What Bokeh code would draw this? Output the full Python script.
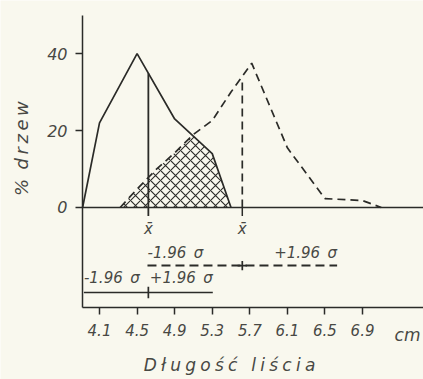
import numpy as np
from bokeh.plotting import figure
from bokeh.models import Range1d, FixedTicker, Label, ColumnDataSource
from bokeh.core.properties import value
from bokeh.embed import file_html
from bokeh.resources import INLINE

# ---- data ----
solid_x = [3.92, 4.1, 4.5, 4.9, 5.3, 5.5]
solid_y = [0, 22, 40, 23, 14, 0]
dash_x = [4.32, 4.5, 4.7, 4.9, 5.1, 5.3, 5.5, 5.72, 6.1, 6.5, 6.9, 7.1]
dash_y = [0, 4.8, 9.8, 14.2, 19.0, 22.6, 30.0, 37.5, 15.5, 2.3, 1.8, 0]
mean1, sigma1 = 4.62, 0.35
mean2, sigma2 = 5.62, 0.515
x_ticks = [4.1, 4.5, 4.9, 5.3, 5.7, 6.1, 6.5, 6.9]
y_ticks = [0, 20, 40]
x_title = "D\u2005ł\u2005u\u2005g\u2005o\u2005ś\u2005ć\u2002 l\u2005i\u2005ś\u2005c\u2005i\u2005a"
y_title = "%\u2009 d\u2009r\u2009z\u2009e\u2009w"
unit = "cm"
sig_minus = "-1.96\u2002σ"
sig_plus = "+1.96\u2002σ"
mean_label = "x\u0304"

INK = "#2b2b28"
TXT = "#484844"
BG = "#f9f8ee"
FONT = value("DejaVu Sans")

X0, X1 = 3.919, 7.549      # extent of the drawn x axis
Y0, Y1 = -26.0, 49.9       # extent of the drawn y axis

p = figure(width=423, height=379, output_backend="svg", toolbar_location=None,
           x_range=Range1d(3.046, 7.549), y_range=Range1d(-44.72, 53.8),
           min_border=0, background_fill_color=BG, border_fill_color=BG,
           outline_line_color=None)
p.grid.visible = False

for ax in (p.xaxis[0], p.yaxis[0]):
    ax.axis_line_color = INK
    ax.axis_line_width = 1.5
    ax.major_tick_line_color = INK
    ax.major_tick_line_width = 1.5
    ax.major_tick_out = 7
    ax.major_tick_in = 0
    ax.minor_tick_line_color = None
    ax.major_label_text_font = "DejaVu Sans"
    ax.major_label_text_font_style = "italic"
    ax.major_label_text_color = TXT

p.xaxis.fixed_location = Y0
p.xaxis.bounds = (X0, X1)
p.yaxis.fixed_location = X0
p.yaxis.bounds = (Y0, Y1)
p.xaxis.ticker = FixedTicker(ticks=x_ticks)
p.xaxis.major_label_text_font_size = "15px"
p.xaxis.major_label_standoff = 10
p.yaxis.ticker = FixedTicker(ticks=y_ticks)
p.yaxis.major_label_text_font_size = "16px"
p.yaxis.major_label_standoff = 8

# baseline at 0
p.line([X0, X1], [0, 0], line_color=INK, line_width=1.5)

# hatched overlap
hx = np.linspace(dash_x[0], solid_x[-1], 200)
top = np.minimum(np.interp(hx, solid_x, solid_y), np.interp(hx, dash_x, dash_y))
px = np.concatenate([hx, hx[::-1]])
py = np.concatenate([top, np.zeros_like(top)])
p.patch(px, py, fill_color=None, line_color=None, hatch_pattern="x",
        hatch_color=INK, hatch_scale=10, hatch_weight=1.1)

# curves
p.line(solid_x, solid_y, line_color=INK, line_width=1.7)
p.line(dash_x, dash_y, line_color=INK, line_width=1.7, line_dash="8 5")

# mean lines
m1_top = float(np.interp(mean1, solid_x, solid_y))
m2_top = float(np.interp(mean2, dash_x, dash_y)) - 1.0
p.segment([mean1], [-2.2], [mean1], [m1_top], line_color=INK, line_width=1.8)
p.segment([mean2], [0], [mean2], [m2_top], line_color=INK, line_width=1.7, line_dash="8 5")
p.segment([mean2], [-2.2], [mean2], [0], line_color=INK, line_width=1.5)

# mean labels
p.text([mean1, mean2], [-5.6, -5.6], text=[mean_label, mean_label], text_font=FONT,
       text_font_style="italic", text_font_size="15px", text_color=TXT,
       text_align="center", text_baseline="middle")

# +-1.96 sigma ranges
lvl2, lvl1 = -15.1, -22.1
lo2, hi2 = mean2 - 1.96 * sigma2, mean2 + 1.96 * sigma2
lo1, hi1 = mean1 - 1.96 * sigma1, mean1 + 1.96 * sigma1
p.line([lo2, hi2], [lvl2, lvl2], line_color=INK, line_width=1.9, line_dash="9 5")
p.line([lo1, hi1], [lvl1, lvl1], line_color=INK, line_width=1.7)
p.segment([mean2, mean2 - 0.05, mean1], [lvl2 - 1.2, lvl2, lvl1 - 1.5],
          [mean2, mean2 + 0.05, mean1], [lvl2 + 1.2, lvl2, lvl1 + 1.5],
          line_color=INK, line_width=1.7)

src = ColumnDataSource(dict(x=[lo2, hi2, lo1, hi1], y=[lvl2 + 0.9, lvl2 + 0.9, lvl1 + 1.3, lvl1 + 1.3],
                            t=[sig_minus, sig_plus, sig_minus, sig_plus],
                            a=["left", "right", "left", "right"]))
p.text("x", "y", text="t", source=src, text_align="a", text_baseline="bottom",
       text_font=FONT, text_font_style="italic", text_font_size="15px", text_color=TXT)

# titles
p.add_layout(Label(x=7.379, y=-33.2, text=unit, text_align="center", text_baseline="middle",
                   text_font="DejaVu Sans", text_font_style="italic", text_font_size="17px",
                   text_color=TXT))
p.add_layout(Label(x=5.484, y=-41.0, text=x_title, text_align="center", text_baseline="middle",
                   text_font="DejaVu Sans", text_font_style="italic", text_font_size="17px",
                   text_color=TXT))
p.add_layout(Label(x=3.27, y=15.3, text=y_title, angle=np.pi / 2, text_align="center",
                   text_baseline="middle", text_font="DejaVu Sans", text_font_style="italic",
                   text_font_size="18px", text_color=TXT))

open("out.html", "w").write(file_html(p, INLINE))
